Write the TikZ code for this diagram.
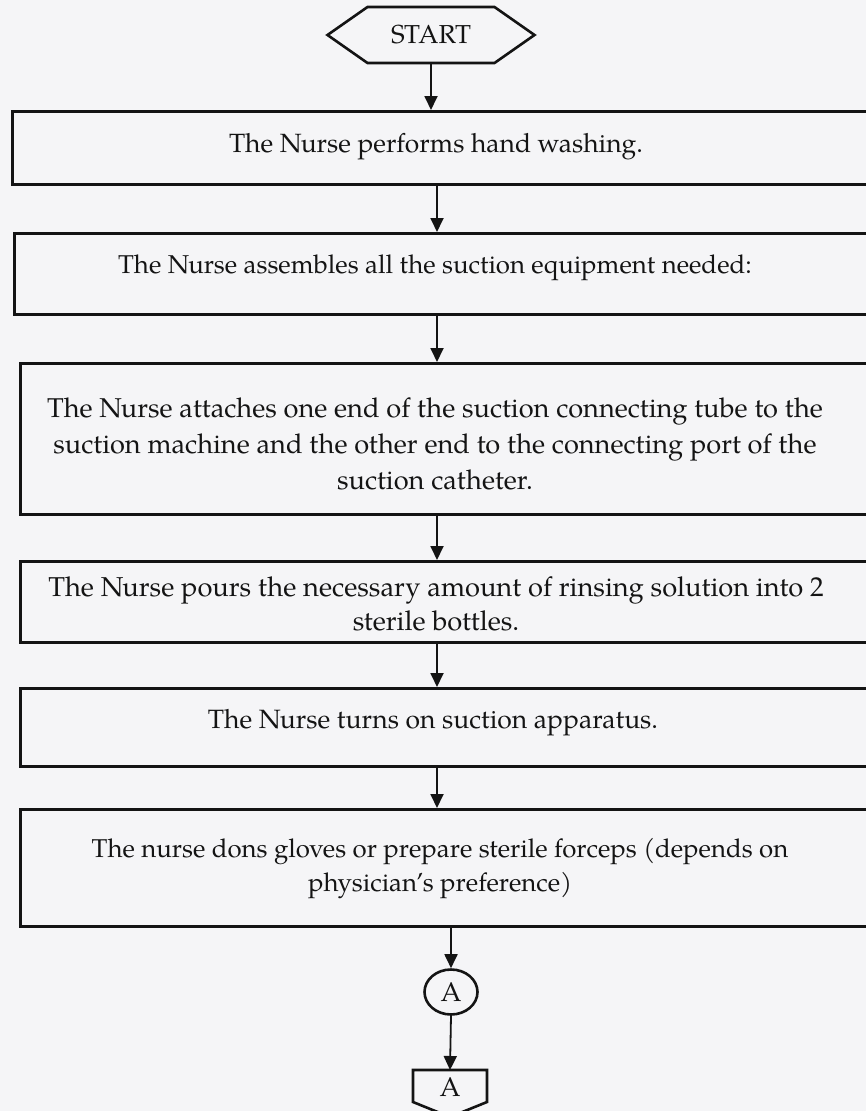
\documentclass[tikz,border=0pt]{standalone}
\usepackage{fontspec}
\setmainfont{TeX Gyre Pagella}
\usetikzlibrary{arrows.meta,shapes.symbols,shapes.geometric,calc}
\definecolor{bgc}{RGB}{245,245,247}
\definecolor{ink}{RGB}{20,20,20}
\begin{document}
\begin{tikzpicture}[x=1pt,y=-1pt,
  stepbox/.style={draw=ink, line width=3.3pt, anchor=north west, inner sep=0pt, minimum width=860pt},
  txt/.style={font=\fontsize{27}{35}\selectfont, align=center, inner sep=0pt, text=ink},
  txts/.style={font=\fontsize{25.8}{34}\selectfont, align=center, inner sep=0pt, text=ink},
  arr/.style={draw=ink, line width=1.8pt, -{Triangle[width=13pt,length=14pt]}},
  conn/.style={draw=ink, line width=2.6pt, line join=miter}]
\clip (0,0) rectangle (866,1111);
\fill[bgc] (0,0) rectangle (866,1111);
% start terminator
\node[shape=signal, signal to=east and west, signal pointer angle=70, draw=ink, line width=2.6pt,
      minimum width=207pt, minimum height=56pt, inner sep=0pt, font=\fontsize{26}{30}\selectfont, text=ink] (start) at (431,35) {START};
% boxes
\node[stepbox, minimum width=862pt, minimum height=73pt] (b1) at (11,110) {};
\node[stepbox, minimum width=860pt, minimum height=81pt] (b2) at (13,232) {};
\node[stepbox, minimum width=856pt, minimum height=151pt] (b3) at (19,362) {};
\node[stepbox, minimum width=856pt, minimum height=81pt] (b4) at (19,560) {};
\node[stepbox, minimum width=856pt, minimum height=78pt] (b5) at (19,687) {};
\node[stepbox, minimum width=856pt, minimum height=117pt] (b6) at (19,808) {};
% texts
\node[txt, font=\fontsize{26.4}{35}\selectfont] (t1) at (436,147) {The Nurse performs hand washing.};
\node[txts] (t2) at (435,268) {The Nurse assembles all the suction equipment needed:};
\node[txt, font=\fontsize{27.2}{36}\selectfont] (t3) at (435,444) {The Nurse attaches one end of the suction connecting tube to the\\suction machine and the other end to the connecting port of the\\suction catheter.};
\node[txt, font=\fontsize{27.3}{34}\selectfont] (t4) at (436,604) {The Nurse pours the necessary amount of rinsing solution into 2\\sterile bottles.};
\node[txt, font=\fontsize{26.5}{35}\selectfont] (t5) at (433,723) {The Nurse turns on suction apparatus.};
\node[txts] (t6) at (440,869) {The nurse dons gloves or prepare sterile forceps (depends on\\physician’s preference)};
% connectors
\node[draw=ink, ellipse, line width=2.6pt, minimum width=53pt, minimum height=45pt, inner sep=0pt,
      font=\fontsize{27}{30}\selectfont, text=ink] (A) at (451,992) {A};
\node[inner sep=0pt, font=\fontsize{27}{30}\selectfont, text=ink] (offA) at (450,1087) {A};
\draw[conn] (413,1102) -- (413,1070) -- (487,1070) -- (487,1102) -- (450,1117) -- cycle;
\coordinate (ax) at (437,0);
\coordinate (offtop) at (450,1070);
% arrows
\draw[arr] (start.south) -- (start.south |- b1.north);
\draw[arr] (b1.south -| ax) -- (b2.north -| ax);
\draw[arr] (b2.south -| ax) -- (b3.north -| ax);
\draw[arr] (b3.south -| ax) -- (b4.north -| ax);
\draw[arr] (b4.south -| ax) -- (b5.north -| ax);
\draw[arr] (b5.south -| ax) -- (b6.north -| ax);
\draw[arr] (b6.south -| A.north) -- (A.north);
\draw[arr] (A.south) -- (offtop);
\end{tikzpicture}
\end{document}
